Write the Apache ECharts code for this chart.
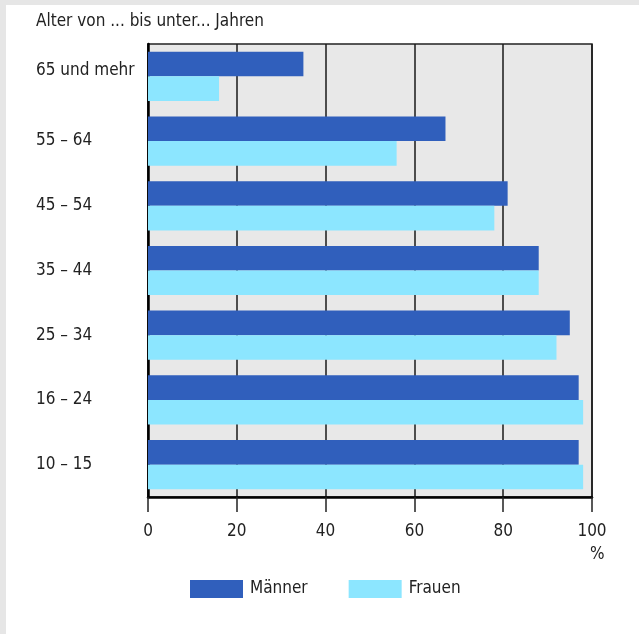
<!DOCTYPE html>
<html><head><meta charset="utf-8">
<script src="https://cdn.jsdelivr.net/npm/echarts@6/dist/echarts.min.js"></script>
<style>html,body{margin:0;padding:0;background:#fff}#c{width:639px;height:634px}</style>
</head><body><div id="c"></div>
<script>
const categories = ['65 und mehr', '55 – 64', '45 – 54', '35 – 44', '25 – 34', '16 – 24', '10 – 15'];
const maenner = [35, 67, 81, 88, 95, 97, 97];
const frauen = [16, 56, 78, 88, 92, 98, 98];
const seriesNames = ['Männer', 'Frauen'];
const xTicks = [0, 20, 40, 60, 80, 100];

const FONT = "'Liberation Sans Narrow', 'DejaVu Sans Condensed', 'Noto Sans', sans-serif";
const chart = echarts.init(document.getElementById('c'), null, {renderer: 'canvas'});
chart.setOption({
  animation: false,
  textStyle: {fontFamily: FONT, color: '#222'},
  title: {text: 'Alter von ... bis unter... Jahren', left: 31, top: 8,
    textStyle: {fontFamily: FONT, fontSize: 17, fontWeight: 'normal', color: '#222'}},
  graphic: [
    {type: 'rect', shape: {x: 0, y: 0, width: 639, height: 5}, style: {fill: '#e6e6e6'}, silent: true},
    {type: 'rect', shape: {x: 0, y: 0, width: 6, height: 634}, style: {fill: '#e6e6e6'}, silent: true},
    {type: 'text', left: 590, top: 546, style: {text: '%', font: '17px ' + FONT, fill: '#222'}}
  ],
  legend: {left: 185, top: 575, itemWidth: 53, itemHeight: 18, itemGap: 41, icon: 'rect',
    textStyle: {fontFamily: FONT, fontSize: 17, color: '#222', padding: [0, 0, 0, 2]}, data: seriesNames},
  grid: {left: 148, right: 47, top: 44, height: 453, show: true, backgroundColor: '#e8e8e8',
    borderColor: '#222', borderWidth: 1.5},
  xAxis: {type: 'value', min: xTicks[0], max: xTicks[xTicks.length - 1], interval: 20,
    axisLine: {show: true, lineStyle: {color: '#000', width: 2.5}},
    axisTick: {show: true, length: 15, lineStyle: {color: '#222', width: 1.5}},
    splitLine: {show: true, lineStyle: {color: '#1a1a1a', width: 1.5}},
    axisLabel: {fontSize: 17, color: '#222', margin: 26, fontFamily: FONT}},
  yAxis: {type: 'category', data: categories, inverse: true,
    axisLine: {show: true, lineStyle: {color: '#000', width: 2.5}},
    axisTick: {show: false},
    axisLabel: {align: 'left', margin: 112, fontSize: 17, color: '#222', fontFamily: FONT,
      formatter: (v, i) => i === 0 ? '{up|' + v + '}' : v,
      rich: {up: {fontSize: 17, fontFamily: FONT, color: '#222', padding: [0, 0, 12, 0]}}}},
  series: [
    {name: seriesNames[0], type: 'bar', data: maenner, barGap: '0%', barCategoryGap: '24%',
      itemStyle: {color: '#305fbc'}},
    {name: seriesNames[1], type: 'bar', data: frauen, itemStyle: {color: '#8ce6ff'}}
  ]
});
</script></body></html>
